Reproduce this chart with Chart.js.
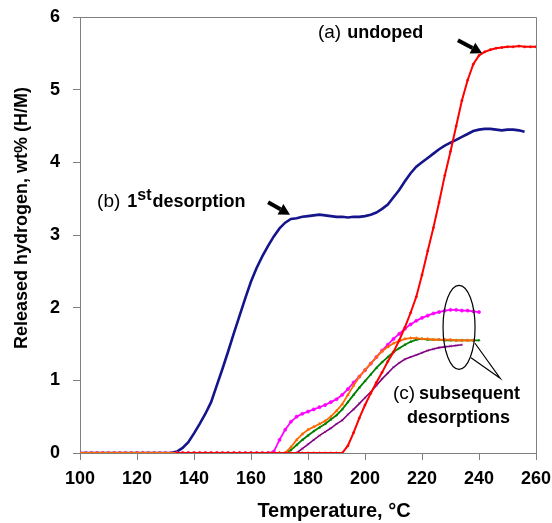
<!DOCTYPE html>
<html><head><meta charset="utf-8">
<script src="https://cdn.jsdelivr.net/npm/chart.js@4"></script>
<style>html,body{margin:0;padding:0;background:#fff}canvas{display:block}</style>
</head><body>
<canvas id="c" width="552" height="523"></canvas>
<script>
// Temperature grid (°C)
const temperature = [100,102,104,106,108,110,112,114,116,118,120,122,124,126,128,130,132,134,136,138,140,142,144,146,148,150,152,154,156,158,160,162,164,166,168,170,172,174,176,178,180,182,184,186,188,190,192,194,196,198,200,202,204,206,208,210,212,214,216,218,220,222,224,226,228,230,232,234,236,238,240,242,244,246,248,250,252,254,256,258,260];

// (b) 1st desorption (blue)
const firstDesorption = [0,0,0,0,0,0,0,0,0,0,0,0,0,0,0,0,0,
 0.02,0.07,0.15,0.27,0.40,0.54,0.70,0.93,1.16,1.40,
 1.65,1.89,2.13,2.36,2.55,2.71,2.85,2.98,3.09,3.17,
 3.22,3.23,3.25,3.26,3.27,3.28,3.27,3.26,3.25,3.25,
 3.24,3.25,3.25,3.26,3.28,3.31,3.36,3.42,3.52,3.62,
 3.74,3.85,3.94,4.00,4.06,4.12,4.18,4.23,4.27,4.31,
 4.35,4.39,4.43,4.45,4.46,4.46,4.45,4.44,4.45,4.45,
 4.44,4.42,null,null];

// (a) undoped (red)
const undoped = [null,null,null,null,null,null,null,null,null,null,null,null,null,null,null,null,null,
 0,0,0,0,0,0,0,0,0,0,0,0,0,0,0,0,0,0,0,0,0,0,0,0,0,0,0,0,0,0,
 0.10,0.28,0.48,0.66,0.82,0.97,1.11,1.26,1.39,1.55,
 1.73,1.93,2.15,2.45,2.78,3.10,3.45,3.82,4.15,4.50,
 4.85,5.13,5.35,5.47,5.52,5.55,5.57,5.58,5.59,5.59,
 5.60,5.59,5.59,5.59];

// (c) subsequent desorptions
const subsequent1 = [0,0,0,0,0,0,0,0,0,0,0,0,0,0,0,0,0,0,0,0,0,0,0,0,0,0,0,0,0,0,0,0,0,0,
 0.02,0.18,0.32,0.43,0.50,0.54,0.57,0.60,0.63,0.66,
 0.70,0.74,0.80,0.88,0.97,1.05,1.14,1.23,1.32,1.41,
 1.49,1.57,1.64,1.71,1.77,1.82,1.86,1.89,1.92,1.94,
 1.96,1.97,1.97,1.96,1.96,1.95,1.94,
 null,null,null,null,null,null,null,null,null,null];
const subsequent2 = [0,0,0,0,0,0,0,0,0,0,0,0,0,0,0,0,0,0,0,0,0,0,0,0,0,0,0,0,0,0,0,0,0,0,0,0,0,
 0.08,0.18,0.26,0.32,0.36,0.40,0.44,0.50,0.58,0.67,
 0.80,0.93,1.05,1.14,1.23,1.32,1.40,1.46,1.51,1.54,
 1.57,1.58,1.58,1.57,1.57,1.56,1.56,1.56,1.56,1.55,
 1.55,1.55,1.55,
 null,null,null,null,null,null,null,null,null,null,null];
const subsequent3 = [0,0,0,0,0,0,0,0,0,0,0,0,0,0,0,0,0,0,0,0,0,0,0,0,0,0,0,0,0,0,0,0,0,0,0,0,0,
 0.04,0.11,0.18,0.24,0.30,0.35,0.40,0.46,0.52,0.60,
 0.70,0.80,0.90,0.99,1.08,1.17,1.25,1.32,1.39,1.44,
 1.49,1.53,1.56,1.57,1.56,1.56,1.56,1.55,1.55,1.55,
 1.55,1.55,1.55,1.55,
 null,null,null,null,null,null,null,null,null,null];
const subsequent4 = [0,0,0,0,0,0,0,0,0,0,0,0,0,0,0,0,0,0,0,0,0,0,0,0,0,0,0,0,0,0,0,0,0,0,0,0,0,0,0,
 0.06,0.12,0.18,0.24,0.29,0.34,0.40,0.45,0.53,0.60,
 0.68,0.76,0.84,0.93,1.02,1.10,1.18,1.24,1.29,1.32,
 1.35,1.38,1.41,1.43,1.45,1.46,1.47,1.48,1.49,
 null,null,null,null,null,null,null,null,null,null,null,null,null];

const xTicks = [100,120,140,160,180,200,220,240,260];
const yTicks = [0,1,2,3,4,5,6];

const FONT = 'Arial, "Liberation Sans", sans-serif';
const pts = arr => temperature.map((t,i)=>({x:t,y:arr[i]}));

const deco = {
  id:'deco',
  afterDraw(chart){
    const {ctx, chartArea:a, scales:{x,y}} = chart;
    const X = v=>x.getPixelForValue(v), Y = v=>y.getPixelForValue(v);
    ctx.save();
    // frame top/right
    ctx.strokeStyle='#808080'; ctx.lineWidth=1;
    ctx.beginPath();
    ctx.moveTo(a.left, a.top+0.5); ctx.lineTo(a.right+0.5, a.top+0.5); ctx.lineTo(a.right+0.5, a.bottom);
    ctx.stroke();
    ctx.fillStyle='#000'; ctx.strokeStyle='#000';
    // axis titles
    ctx.font='bold 18px '+FONT; ctx.textAlign='center'; ctx.textBaseline='middle';
    ctx.save(); ctx.translate(22, 218); ctx.rotate(-Math.PI/2);
    ctx.fillText('Released hydrogen, wt% (H/M)',0,0); ctx.restore();
    ctx.font='bold 20px '+FONT;
    ctx.fillText('Temperature, °C', 334, 511);
    ctx.textAlign='left'; ctx.textBaseline='alphabetic';
    // (a) undoped
    let px=X(183.5), py=Y(5.71);
    ctx.font='19px '+FONT; ctx.fillText('(a)',px,py);
    px+=ctx.measureText('(a)').width+6;
    ctx.font='bold 18px '+FONT; ctx.fillText('undoped',px,py);
    // (b) 1st desorption
    px=X(106); py=Y(3.39);
    ctx.font='19px '+FONT; ctx.fillText('(b)',px,py);
    px+=ctx.measureText('(b)').width+7;
    ctx.font='bold 18px '+FONT; ctx.fillText('1',px,py);
    px+=ctx.measureText('1').width;
    ctx.font='bold 16px '+FONT; ctx.fillText('st',px,py-7);
    px+=ctx.measureText('st').width+1;
    ctx.font='bold 18px '+FONT; ctx.fillText('desorption',px,py);
    // (c) subsequent desorptions
    px=X(209.8); py=Y(0.74);
    ctx.font='19px '+FONT; ctx.fillText('(c)',px,py);
    px+=ctx.measureText('(c)').width+4;
    ctx.font='bold 18px '+FONT; ctx.fillText('subsequent',px,py);
    ctx.fillText('desorptions',X(214.7),Y(0.41));
    // arrows
    function arrow(t1,v1,t2,v2){
      const x1=X(t1),y1=Y(v1),x2=X(t2),y2=Y(v2);
      const ang=Math.atan2(y2-y1,x2-x1), hl=11, hw=6;
      const bx=x2-hl*Math.cos(ang), by=y2-hl*Math.sin(ang);
      ctx.lineWidth=4; ctx.lineCap='butt';
      ctx.beginPath(); ctx.moveTo(x1,y1); ctx.lineTo(bx,by); ctx.stroke();
      ctx.beginPath(); ctx.moveTo(x2,y2);
      ctx.lineTo(bx+hw*Math.sin(ang), by-hw*Math.cos(ang));
      ctx.lineTo(bx-hw*Math.sin(ang), by+hw*Math.cos(ang));
      ctx.closePath(); ctx.fill();
    }
    arrow(232.6,5.68,241.1,5.50);
    arrow(166.0,3.45,173.7,3.28);
    // ellipse + callout
    ctx.lineWidth=1.2;
    ctx.beginPath(); ctx.ellipse(X(233.0),Y(1.73),16,42,0,0,Math.PI*2); ctx.stroke();
    ctx.beginPath(); ctx.moveTo(X(237.2),Y(1.31)); ctx.lineTo(X(247.4),Y(1.03)); ctx.lineTo(X(238.6),Y(1.51)); ctx.stroke();
    ctx.restore();
  }
};

const ds = (label,arr,color,w,style,r,ord)=>({
  label, data:pts(arr), borderColor:color, backgroundColor:color,
  borderWidth:w, pointStyle:style, pointRadius:r, pointBorderWidth:0.6,
  pointBorderColor:color, pointBackgroundColor:color, tension:0, order:ord, spanGaps:false
});

new Chart(document.getElementById('c'), {
  type:'line',
  data:{ datasets:[
    ds('(a) undoped', undoped, '#ff0000', 2, 'circle', 1.1, 0),
    ds('(c) 2', subsequent2, '#ff6a00', 1.8, 'triangle', 1.6, 1),
    ds('(c) 3', subsequent3, '#008000', 1.8, 'triangle', 1.3, 2),
    ds('(c) 1', subsequent1, '#ff00ff', 1.8, 'circle', 1.6, 3),
    ds('(c) 4', subsequent4, '#800080', 1.6, 'crossRot', 1.6, 4),
    ds('(b) 1st desorption', firstDesorption, '#14148c', 2.6, 'circle', 0, 5)
  ]},
  plugins:[deco],
  options:{
    responsive:false, animation:false, devicePixelRatio:1,
    layout:{padding:{top:17,right:16,left:0,bottom:0}},
    plugins:{legend:{display:false}, tooltip:{enabled:false}},
    scales:{
      x:{type:'linear', min:100, max:260,
        afterFit(s){ s.height=70; s.paddingLeft=0; s.paddingRight=0; },
        afterBuildTicks(s){ s.ticks = xTicks.map(v=>({value:v})); },
        grid:{drawOnChartArea:false, drawTicks:true, tickLength:7, color:'#808080'},
        border:{display:true, color:'#808080', width:1},
        ticks:{color:'#000', font:{family:FONT, size:18, weight:'bold'}, padding:8, maxRotation:0}
      },
      y:{type:'linear', min:0, max:6,
        afterFit(s){ s.width=80; s.paddingTop=0; s.paddingBottom=0; },
        afterBuildTicks(s){ s.ticks = yTicks.map(v=>({value:v})); },
        grid:{drawOnChartArea:false, drawTicks:true, tickLength:7, color:'#808080'},
        border:{display:true, color:'#808080', width:1},
        ticks:{color:'#000', font:{family:FONT, size:18, weight:'bold'}, padding:13}
      }
    }
  }
});
</script>
</body></html>
